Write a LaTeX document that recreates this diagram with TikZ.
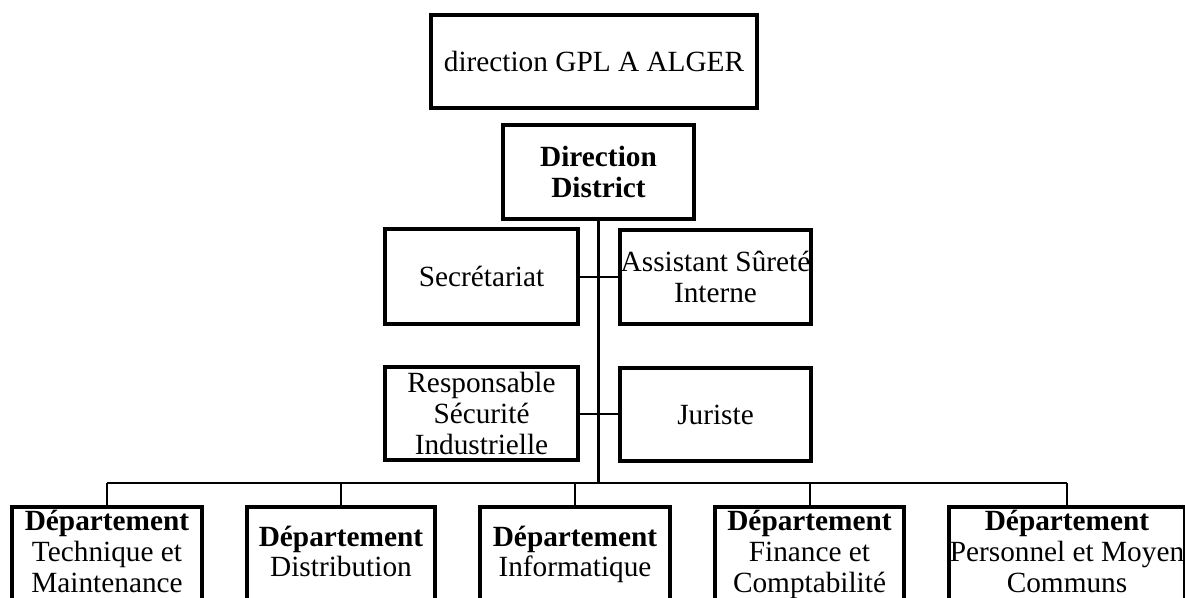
\documentclass[tikz,border=0pt]{standalone}
\usepackage{fontspec}
\setmainfont{Liberation Serif}
\begin{document}
\begin{tikzpicture}[x=1pt,y=-1pt,
  box/.style={draw, line width=4pt, rectangle, inner sep=0pt, align=center,
              font=\fontsize{29.3}{30.8}\selectfont},
  dept/.style={box, anchor=north, minimum height=96.6pt},
  link/.style={line width=2pt},
  trunk/.style={line width=3.8pt}]
\useasboundingbox (0,0) rectangle (1185,597);
\clip (0,0) rectangle (1185,597);

% head office and district management
\node[box, minimum width=326pt, minimum height=93pt] (gpl) at (594,61.5) {direction GPL A ALGER};
\node[box, minimum width=191pt, minimum height=94pt] (dd) at (598.5,172) {\bfseries Direction\\\bfseries District};

% staff functions
\node[box, minimum width=193pt, minimum height=95pt] (sec) at (481.5,276.5) {Secrétariat};
\node[box, minimum width=191pt, minimum height=94pt] (asst) at (715.5,277) {Assistant Sûreté\\Interne};
\node[box, minimum width=193pt, minimum height=93pt] (resp) at (481.5,413.5) {Responsable\\Sécurité\\Industrielle};
\node[box, minimum width=191pt, minimum height=93pt] (jur) at (715.5,414.5) {Juriste};

% departments
\node[dept, minimum width=190pt] (d1) at (107,505) {\textbf{Département}\strut\\Technique et\\Maintenance\strut};
\node[dept, minimum width=188pt] (d2) at (341,505) {\textbf{Département}\strut\\Distribution\strut};
\node[dept, minimum width=190pt] (d3) at (575,505) {\textbf{Département}\strut\\Informatique\strut};
\node[dept, minimum width=189pt] (d4) at (809.5,505) {\textbf{Département}\strut\\Finance et\\Comptabilité\strut};
\node[dept, minimum width=236pt] (d5) at (1067,505) {\textbf{Département}\strut\\Personnel et Moyen\\Communs\strut};

% connectors
\coordinate (bus) at (598.5,483);
\draw[trunk] (dd.south) -- (dd.south |- bus);
\draw[link] (sec.east) -- (sec.east -| asst.west);
\draw[link] (resp.east) -- (resp.east -| jur.west);
\draw[link] (d1.north |- bus) -- (d5.north |- bus);
\foreach \d in {d1,d2,d3,d4,d5}
  \draw[link] (\d.north) -- (\d.north |- bus);
\end{tikzpicture}
\end{document}
